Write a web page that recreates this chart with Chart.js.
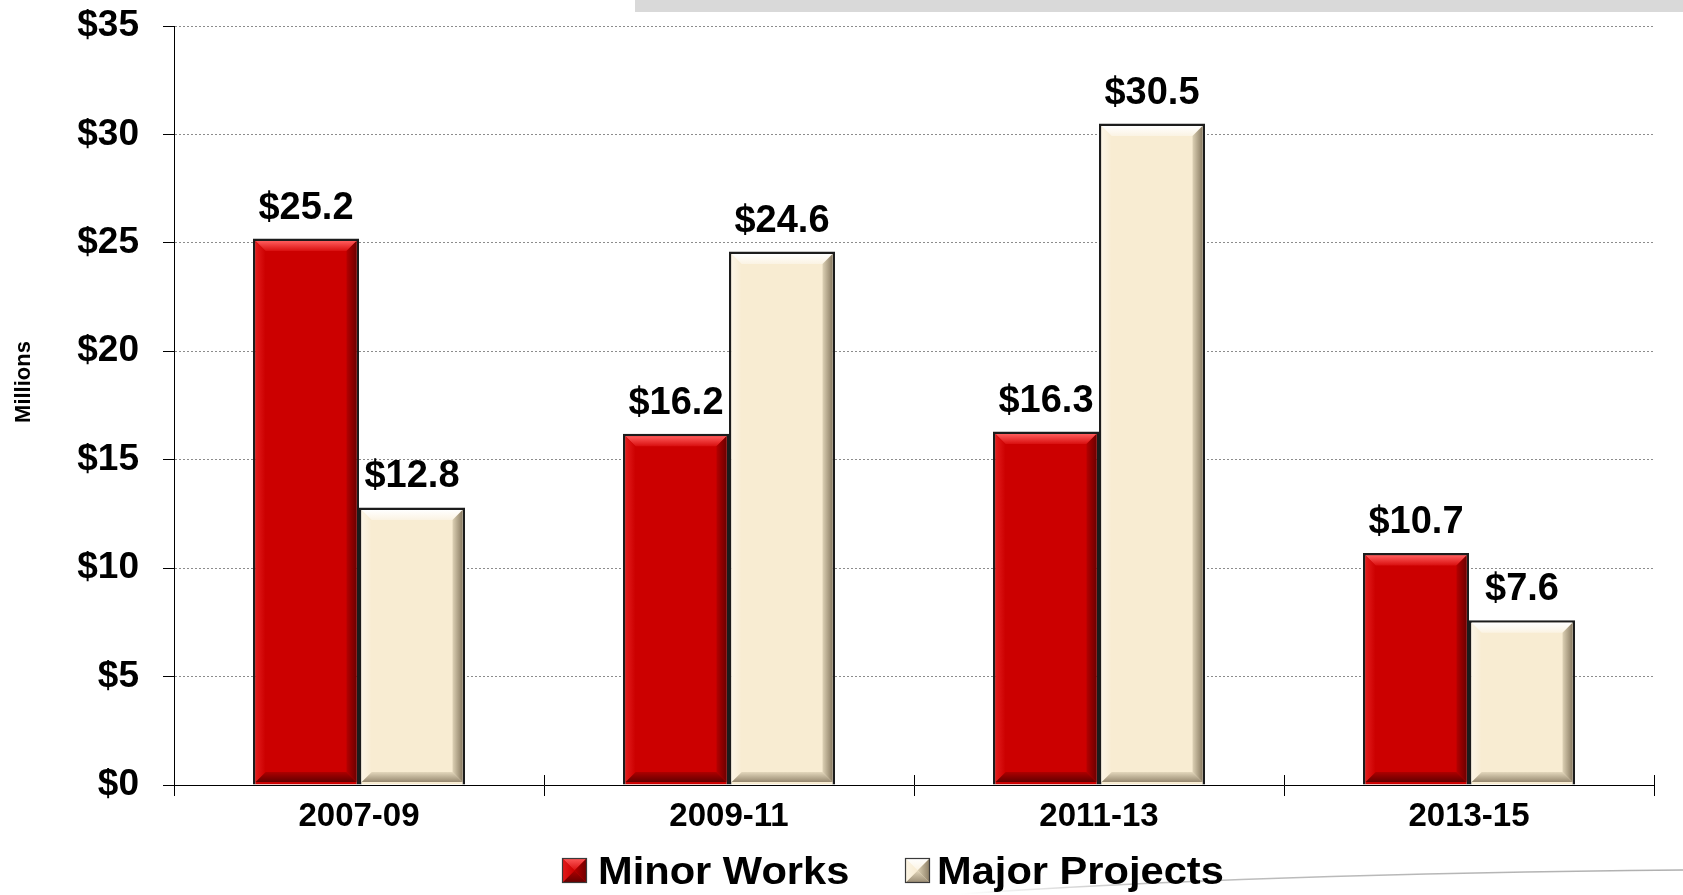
<!DOCTYPE html>
<html>
<head>
<meta charset="utf-8">
<script src="https://cdn.jsdelivr.net/npm/chart.js@4/dist/chart.umd.min.js"></script>
<style>
  html, body { margin: 0; padding: 0; background: #fff; overflow: hidden; }
  #wrap { position: relative; width: 1683px; height: 895px; }
</style>
</head>
<body>
<div id="wrap"><canvas id="c" width="1683" height="895"></canvas></div>
<script>
// Funding by biennium, in millions of dollars
const periods = ['2007-09', '2009-11', '2011-13', '2013-15'];
const minorWorks = [25.2, 16.2, 16.3, 10.7];
const majorProjects = [12.8, 24.6, 30.5, 7.6];
const yTicks = [0, 5, 10, 15, 20, 25, 30, 35];
const seriesNames = ['Minor Works', 'Major Projects'];
const axisTitle = 'Millions';

const FONT = '"Liberation Sans", Arial, Helvetica, sans-serif';

// Fill colours and bevel shading for each series
const palette = [
  {
    main: '#cc0000',
    top: ['#ff5c5c', '#d90f0f'],
    left: ['#e21c1c', '#cc0000'],
    right: ['#6e0000', '#b50000'],
    bottom: ['#620000', '#ad0000']
  },
  {
    main: '#f8ecd2',
    top: ['#ffffff', '#fbf3e3'],
    left: ['#fcf5e6', '#f8ecd2'],
    right: ['#8a7c63', '#ddd1b5'],
    bottom: ['#978970', '#e3d7bc']
  }
];

function bevel(ctx, l, t, r, b, d, c) {
  const parts = [
    { pts: [[l, t], [r, t], [r - d, t + d], [l + d, t + d]], g: [0, t, 0, t + d], col: c.top },
    { pts: [[l, b], [r, b], [r - d, b - d], [l + d, b - d]], g: [0, b, 0, b - d], col: c.bottom },
    { pts: [[l, t], [l + d, t + d], [l + d, b - d], [l, b]], g: [l, 0, l + d, 0], col: c.left },
    { pts: [[r, t], [r, b], [r - d, b - d], [r - d, t + d]], g: [r, 0, r - d, 0], col: c.right }
  ];
  parts.forEach(p => {
    const gr = ctx.createLinearGradient(p.g[0], p.g[1], p.g[2], p.g[3]);
    gr.addColorStop(0, p.col[0]);
    gr.addColorStop(1, p.col[1]);
    ctx.beginPath();
    ctx.moveTo(p.pts[0][0], p.pts[0][1]);
    for (let i = 1; i < p.pts.length; i++) ctx.lineTo(p.pts[i][0], p.pts[i][1]);
    ctx.closePath();
    ctx.fillStyle = gr;
    ctx.fill();
  });
}

const decor = {
  id: 'decor',
  beforeDraw(chart) {
    const ctx = chart.ctx;
    ctx.save();
    ctx.fillStyle = '#ffffff';
    ctx.fillRect(0, 0, chart.width, chart.height);
    // grey band along the top edge
    ctx.fillStyle = '#d9d9d9';
    ctx.fillRect(635, 0, chart.width - 635, 12);
    // faint swoosh at the lower right
    const g = ctx.createLinearGradient(960, 0, chart.width, 0);
    g.addColorStop(0, 'rgba(190,190,190,0)');
    g.addColorStop(0.25, 'rgba(185,185,185,0.9)');
    g.addColorStop(1, 'rgba(175,175,175,1)');
    ctx.strokeStyle = g;
    ctx.lineWidth = 1.6;
    ctx.beginPath();
    ctx.moveTo(960, 894);
    ctx.quadraticCurveTo(1250, 874, chart.width, 870);
    ctx.stroke();
    ctx.restore();
  },
  afterDatasetsDraw(chart) {
    const ctx = chart.ctx;
    ctx.save();
    chart.data.datasets.forEach((ds, di) => {
      const meta = chart.getDatasetMeta(di);
      meta.data.forEach((el, i) => {
        const p = el.getProps(['x', 'y', 'base', 'width'], true);
        const bw = 2.5;
        const l = p.x - p.width / 2 + bw, r = p.x + p.width / 2 - bw;
        const t = Math.min(p.y, p.base) + bw, b = Math.max(p.y, p.base) - bw;
        bevel(ctx, l, t, r, b, 10, palette[di]);
        // value label above the bar
        ctx.fillStyle = '#000';
        ctx.font = 'bold 38px ' + FONT;
        ctx.textAlign = 'center';
        ctx.textBaseline = 'alphabetic';
        ctx.fillText('$' + ds.data[i].toFixed(1), p.x, Math.min(p.y, p.base) - 20);
      });
    });
    ctx.restore();
  },
  afterDraw(chart) {
    const ctx = chart.ctx;
    const xs = chart.scales.x;
    ctx.save();
    // category separators cross the axis line
    ctx.strokeStyle = '#000';
    ctx.lineWidth = 1;
    for (let i = 0; i <= periods.length; i++) {
      const px = Math.round(xs.getPixelForValue(i - 0.5)) + 0.5;
      ctx.beginPath();
      ctx.moveTo(px, xs.top - 10);
      ctx.lineTo(px, xs.top);
      ctx.stroke();
    }
    // axis unit label
    ctx.translate(24, 382);
    ctx.rotate(-Math.PI / 2);
    ctx.fillStyle = '#000';
    ctx.font = 'bold 22px ' + FONT;
    ctx.textAlign = 'center';
    ctx.textBaseline = 'middle';
    ctx.fillText(axisTitle, 0, 0);
    ctx.restore();

    // legend
    ctx.save();
    const items = [{ box: 562, text: 598 }, { box: 905, text: 937 }];
    chart.data.datasets.forEach((ds, di) => {
      const it = items[di];
      const bx = it.box, by = 858, s = 25;
      ctx.fillStyle = palette[di].main;
      ctx.fillRect(bx, by, s, s);
      bevel(ctx, bx, by, bx + s, by + s, s / 2, palette[di]);
      ctx.strokeStyle = '#3a3a3a';
      ctx.lineWidth = 1.2;
      ctx.strokeRect(bx + 0.5, by + 0.5, s - 1, s - 1);
      ctx.save();
      ctx.translate(it.text, 884);
      ctx.scale(1.11, 1.04);
      ctx.fillStyle = '#000';
      ctx.font = 'bold 37.5px ' + FONT;
      ctx.textAlign = 'left';
      ctx.textBaseline = 'alphabetic';
      ctx.fillText(ds.label, 0, 0);
      ctx.restore();
    });
    ctx.restore();
  }
};

new Chart(document.getElementById('c'), {
  type: 'bar',
  data: {
    labels: periods,
    datasets: [
      {
        label: seriesNames[0],
        data: minorWorks,
        backgroundColor: palette[0].main,
        borderColor: '#1c1c1c',
        borderWidth: 2.5,
        categoryPercentage: 0.573,
        barPercentage: 1
      },
      {
        label: seriesNames[1],
        data: majorProjects,
        backgroundColor: palette[1].main,
        borderColor: '#1c1c1c',
        borderWidth: 2.5,
        categoryPercentage: 0.573,
        barPercentage: 1
      }
    ]
  },
  options: {
    responsive: false,
    animation: false,
    devicePixelRatio: 1,
    layout: { padding: { top: 26, right: 29, left: 0, bottom: 0 } },
    plugins: {
      legend: { display: false },
      tooltip: { enabled: false }
    },
    scales: {
      x: {
        type: 'category',
        offset: true,
        grid: {
          offset: true,
          drawOnChartArea: false,
          drawTicks: true,
          tickLength: 11,
          tickColor: '#000',
          tickWidth: 1
        },
        border: { display: true, color: '#000', width: 1 },
        ticks: {
          color: '#000',
          font: { family: FONT, size: 33, weight: 'bold' },
          padding: 1,
          maxRotation: 0
        },
        afterFit(s) {
          s.height = 110;
          s.paddingLeft = 0;
          s.paddingRight = 0;
        }
      },
      y: {
        min: 0,
        max: 35,
        afterBuildTicks(s) { s.ticks = yTicks.map(v => ({ value: v })); },
        grid: {
          color: c => (c.tick && c.tick.value === 0) ? 'rgba(0,0,0,0)' : '#8c8c8c',
          lineWidth: 1,
          tickLength: 11,
          tickColor: '#000',
          tickWidth: 1
        },
        border: { display: true, color: '#000', width: 1, dash: [2, 2] },
        ticks: {
          color: '#000',
          font: { family: FONT, size: 37, weight: 'bold' },
          padding: 24,
          callback: v => '$' + v
        },
        afterFit(s) {
          s.width = 174;
          s.paddingTop = 0;
          s.paddingBottom = 0;
        }
      }
    }
  },
  plugins: [decor]
});
</script>
</body>
</html>
